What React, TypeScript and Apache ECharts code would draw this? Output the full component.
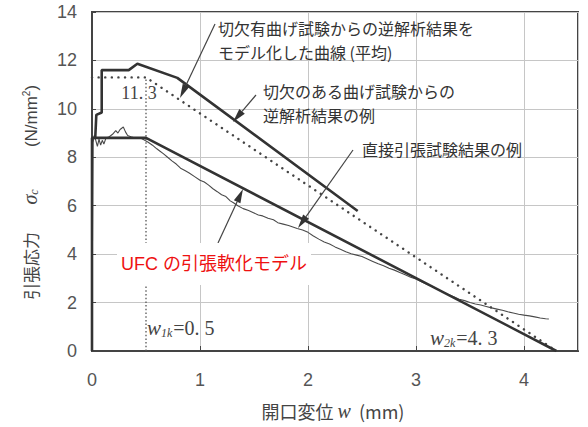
import { useEffect, useRef } from "react";
import * as echarts from "echarts";

// ---- data ----
const xTicks = [0, 1, 2, 3, 4];
const yTicks = [0, 2, 4, 6, 8, 10, 12, 14];

// UFC tensile softening model (thick)
const modelW = [0, 0, 0.5, 4.3];
const modelS = [0, 8.8, 8.8, 0];

// averaged model curve from notched bending (dotted)
const avgW = [0, 0.5, 4.3];
const avgS = [11.3, 11.3, 0];

// w1k marker (dotted vertical)
const w1kW = [0.5, 0.5];
const w1kS = [0, 11.3];

// inverse analysis from notched bending test (thick)
const notchW = [0.03, 0.04, 0.09, 0.09, 0.34, 0.42, 0.79, 2.46];
const notchS = [8.8, 9.75, 9.85, 11.6, 11.6, 11.86, 11.28, 5.78];

// direct tension test result (thin)
const directW = [0, 0.005, 0.01, 0.02, 0.035, 0.05, 0.065, 0.08, 0.095, 0.11, 0.13, 0.16, 0.19, 0.22, 0.24, 0.26, 0.29, 0.31, 0.33, 0.36, 0.4, 0.44, 0.48, 0.52, 0.56, 0.6, 0.63, 0.66, 0.7, 0.74, 0.78, 0.82, 0.86, 0.9, 0.95, 1.0, 1.04, 1.08, 1.12, 1.16, 1.2, 1.24, 1.28, 1.31, 1.35, 1.4, 1.45, 1.49, 1.54, 1.58, 1.63, 1.68, 1.72, 1.77, 1.82, 1.86, 1.9, 1.95, 2.0, 2.05, 2.1, 2.15, 2.2, 2.25, 2.3, 2.35, 2.4, 2.45, 2.5, 2.55, 2.6, 2.65, 2.7, 2.75, 2.8, 2.85, 2.9, 2.95, 3.0, 3.05, 3.1, 3.15, 3.2, 3.25, 3.3, 3.35, 3.4, 3.45, 3.5, 3.55, 3.6, 3.65, 3.7, 3.75, 3.8, 3.85, 3.9, 3.95, 4.0, 4.05, 4.1, 4.15, 4.2, 4.23];
const directS = [0, 5, 8.6, 8.9, 8.7, 8.45, 8.75, 8.5, 8.7, 8.55, 8.8, 8.85, 8.95, 9.1, 9.0, 9.15, 9.25, 9.05, 8.9, 8.85, 8.8, 8.82, 8.72, 8.62, 8.5, 8.35, 8.25, 8.15, 8.0, 7.85, 7.72, 7.55, 7.45, 7.35, 7.2, 7.05, 6.98, 6.85, 6.7, 6.58, 6.45, 6.38, 6.2, 6.12, 6.0, 5.88, 5.8, 5.72, 5.62, 5.58, 5.48, 5.42, 5.3, 5.24, 5.18, 5.12, 5.06, 5.0, 4.9, 4.75, 4.62, 4.5, 4.42, 4.3, 4.2, 4.1, 4.02, 3.96, 3.9, 3.8, 3.7, 3.6, 3.52, 3.42, 3.34, 3.24, 3.15, 3.05, 2.97, 2.86, 2.76, 2.66, 2.55, 2.44, 2.33, 2.24, 2.14, 2.08, 2.0, 1.94, 1.9, 1.84, 1.78, 1.73, 1.68, 1.62, 1.57, 1.52, 1.48, 1.45, 1.41, 1.36, 1.33, 1.32];

const zip = (a: number[], b: number[]) => a.map((v, i) => [v, b[i]]);

const CJK = "'Noto Sans CJK JP', 'Noto Sans', sans-serif";
const SANS = "'Liberation Sans', 'Noto Sans CJK JP', sans-serif";
const SERIF = "'Liberation Serif', 'DejaVu Serif', serif";
const INK = "#333";

function arrow(x1: number, y1: number, x2: number, y2: number) {
  const dx = x2 - x1, dy = y2 - y1;
  const len = Math.sqrt(dx * dx + dy * dy);
  const ux = dx / len, uy = dy / len;
  const hl = 14, hw = 3.6;
  const bx = x2 - ux * hl, by = y2 - uy * hl;
  return [
    { type: "line", z: 50, shape: { x1, y1, x2: bx, y2: by }, style: { stroke: "#444", lineWidth: 1.2 } },
    {
      type: "polygon", z: 50,
      shape: { points: [[x2, y2], [bx - uy * hw, by + ux * hw], [bx + uy * hw, by - ux * hw]] },
      style: { fill: "#333" },
    },
  ];
}

function txt(x: number, y: number, text: string) {
  return {
    type: "text", x, y, z: 60,
    style: { text, fill: INK, font: `16px ${CJK}`, verticalAlign: "middle", align: "left" },
  };
}

export default function App() {
  const ref = useRef<HTMLDivElement>(null);
  useEffect(() => {
    if (!ref.current) return;
    const chart = echarts.init(ref.current, undefined, { renderer: "svg" });
    chart.setOption({
      animation: false,
      backgroundColor: "#fff",
      grid: { left: 92, right: 10, top: 12, bottom: 76, show: true, borderColor: "#444", borderWidth: 2 },
      xAxis: {
        type: "value", min: 0, max: 4.5, interval: 1,
        axisLine: { show: true, lineStyle: { color: "#444", width: 2 } },
        axisTick: { show: true, inside: true, length: 5, lineStyle: { color: "#444" } },
        splitLine: { show: true, lineStyle: { color: "#c6c6c6", width: 1 } },
        axisLabel: {
          margin: 20, color: "#555", fontSize: 18, fontFamily: SANS, showMaxLabel: false,
          formatter: (v: number) => (xTicks.includes(v) ? String(v) : ""),
        },
      },
      yAxis: {
        type: "value", min: 0, max: 14, interval: 2,
        axisLine: { show: true, lineStyle: { color: "#444", width: 2 } },
        axisTick: { show: true, inside: true, length: 4, lineStyle: { color: "#444" } },
        splitLine: { show: true, lineStyle: { color: "#c6c6c6", width: 1 } },
        axisLabel: {
          margin: 15, color: "#555", fontSize: 18, fontFamily: SANS,
          formatter: (v: number) => (yTicks.includes(v) ? String(v) : ""),
        },
      },
      series: [
        {
          name: "direct", type: "line", data: zip(directW, directS), symbol: "none", z: 3,
          lineStyle: { color: "#4a4a4a", width: 1.1 },
        },
        {
          name: "w1k", type: "line", data: zip(w1kW, w1kS), symbol: "none", z: 2,
          lineStyle: { color: "#555", width: 1.3, type: [1.5, 2.2] },
        },
        {
          name: "avg", type: "line", data: zip(avgW, avgS), symbol: "none", z: 4,
          lineStyle: { color: "#444", width: 2.4, type: [0.1, 6.5], cap: "round" },
        },
        {
          name: "notch", type: "line", data: zip(notchW, notchS), symbol: "none", z: 5,
          lineStyle: { color: INK, width: 2.6 },
        },
        {
          name: "model", type: "line", data: zip(modelW, modelS), symbol: "none", z: 6,
          lineStyle: { color: INK, width: 2.6 },
        },
      ],
      graphic: [
        ...arrow(215, 24, 180, 98),
        ...arrow(256, 95, 233, 122),
        ...arrow(353, 150, 298, 228),
        ...arrow(218, 243, 243, 189),
        txt(218, 28, "切欠有曲げ試験からの逆解析結果を"),
        txt(218, 52, "モデル化した曲線 (平均)"),
        txt(263, 91, "切欠のある曲げ試験からの"),
        txt(263, 115, "逆解析結果の例"),
        txt(362, 149, "直接引張試験結果の例"),
        {
          type: "text", x: 139, y: 93, z: 60,
          style: { text: "11. 3", fill: "#444", font: `18px ${SERIF}`, align: "center", verticalAlign: "middle" },
        },
        {
          type: "text", x: 117, y: 264, z: 70,
          style: {
            text: "UFC の引張軟化モデル", fill: "#ee1111", font: `18px ${SANS}`,
            align: "left", verticalAlign: "middle", backgroundColor: "#fff", padding: [12, 4, 12, 4],
          },
        },
        {
          type: "text", x: 147, y: 328, z: 60,
          style: {
            rich: {
              w: { fontFamily: SERIF, fontStyle: "italic", fontSize: 21, fill: "#444" },
              s: { fontFamily: SERIF, fontStyle: "italic", fontSize: 12, fill: "#444", padding: [9, 1, 0, 0] },
              v: { fontFamily: SERIF, fontSize: 20, fill: "#444" },
            },
            text: "{w|w}{s|1k}{v|=0. 5}", verticalAlign: "middle", align: "left",
          },
        },
        {
          type: "text", x: 430, y: 338, z: 60,
          style: {
            rich: {
              w: { fontFamily: SERIF, fontStyle: "italic", fontSize: 21, fill: "#444" },
              s: { fontFamily: SERIF, fontStyle: "italic", fontSize: 12, fill: "#444", padding: [9, 1, 0, 0] },
              v: { fontFamily: SERIF, fontSize: 20, fill: "#444" },
            },
            text: "{w|w}{s|2k}{v|=4. 3}", verticalAlign: "middle", align: "left",
          },
        },
        {
          type: "text", x: 333, y: 411, z: 60,
          style: {
            rich: {
              a: { fontFamily: CJK, fontSize: 18, fill: "#444" },
              w: { fontFamily: SERIF, fontStyle: "italic", fontSize: 20, fill: "#444" },
            },
            text: "{a|開口変位 }{w|w}{a|  (mm)}", align: "center", verticalAlign: "middle",
          },
        },
        {
          type: "text", x: 30, y: 266, z: 60, rotation: Math.PI / 2,
          style: { text: "引張応力", fill: "#444", font: `17px ${CJK}`, align: "center", verticalAlign: "middle" },
        },
        {
          type: "text", x: 30, y: 197, z: 60, rotation: Math.PI / 2,
          style: {
            rich: {
              g: { fontFamily: SERIF, fontStyle: "italic", fontSize: 20, fill: "#444" },
              c: { fontFamily: SERIF, fontStyle: "italic", fontSize: 12, fill: "#444", padding: [8, 0, 0, 0] },
            },
            text: "{g|σ}{c|c}", align: "center", verticalAlign: "middle",
          },
        },
        {
          type: "text", x: 31, y: 116, z: 60, rotation: Math.PI / 2,
          style: {
            rich: {
              n: { fontFamily: SANS, fontSize: 17, fill: "#444" },
              p: { fontFamily: SANS, fontSize: 10, fill: "#444", padding: [0, 0, 9, 0] },
            },
            text: "{n|(N/mm}{p|2}{n|)}", align: "center", verticalAlign: "middle",
          },
        },
      ],
    });
    return () => chart.dispose();
  }, []);
  return (
    <div
      ref={ref}
      style={{ position: "absolute", left: 0, top: 0, width: 588, height: 427, background: "#fff" }}
    />
  );
}
